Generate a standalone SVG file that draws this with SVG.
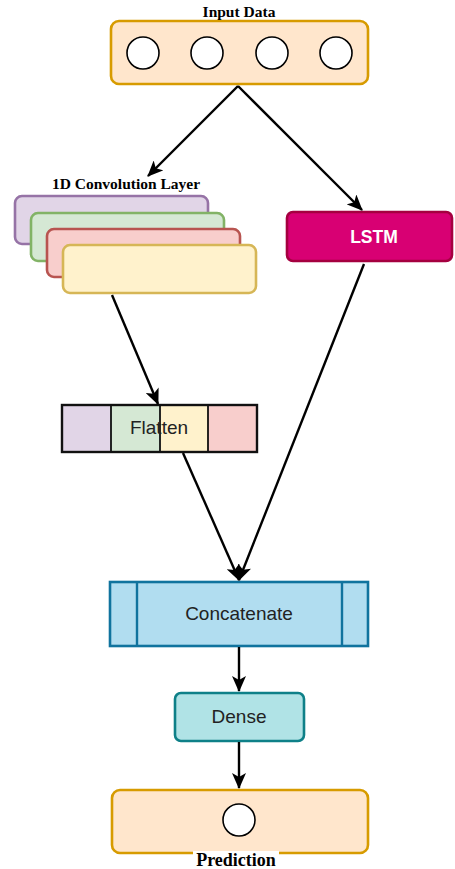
<svg xmlns="http://www.w3.org/2000/svg" width="455" height="869" viewBox="0 0 455 869">
  <style>
    .serif { font-family: "Liberation Serif", "Times New Roman", serif; font-weight: bold; fill: #000; }
    .sans { font-family: "Liberation Sans", Arial, sans-serif; fill: #222; }
    .circ { fill: #fff; stroke: #000; stroke-width: 1.6; }
    .edge { fill: none; stroke: #000; stroke-width: 2.4; marker-end: url(#arrow); }
    .box { stroke-width: 2.6; }
  </style>
  <defs>
    <marker id="arrow" viewBox="0 0 16 14" refX="15" refY="7" markerWidth="16" markerHeight="14" markerUnits="userSpaceOnUse" orient="auto">
      <path d="M0,0 L16,7 L0,14 L4,7 Z" fill="#000"/>
    </marker>
  </defs>
  <rect width="455" height="869" fill="#fff"/>

  <!-- input layer -->
  <g id="input">
    <rect class="box" x="111" y="21" width="257" height="63" rx="8" fill="#ffe6cc" stroke="#d79b00"/>
    <circle class="circ" cx="143" cy="53" r="16"/>
    <circle class="circ" cx="207" cy="53" r="16"/>
    <circle class="circ" cx="272" cy="53" r="16"/>
    <circle class="circ" cx="336" cy="53" r="16"/>
    <text class="serif" x="239" y="17" font-size="15.5" text-anchor="middle">Input Data</text>
  </g>

  <!-- stacked convolution feature maps -->
  <g id="conv">
    <rect class="box" x="15" y="196" width="193" height="48" rx="7" fill="#e1d5e7" stroke="#9673a6"/>
    <rect class="box" x="31" y="213" width="193" height="48" rx="7" fill="#d5e8d4" stroke="#82b366"/>
    <rect class="box" x="47" y="229" width="193" height="48" rx="7" fill="#f8cecc" stroke="#b85450"/>
    <rect class="box" x="63" y="245" width="193" height="48" rx="7" fill="#fff2cc" stroke="#d6b656"/>
    <text class="serif" x="126" y="189" font-size="15.5" text-anchor="middle">1D Convolution Layer</text>
  </g>

  <!-- recurrent branch -->
  <g id="lstm">
    <rect class="box" x="287" y="212" width="165" height="49" rx="6" fill="#d80073" stroke="#a50040"/>
    <text x="374" y="243" font-family="Liberation Sans, Arial, sans-serif" font-weight="bold" font-size="17.5" fill="#fff" text-anchor="middle">LSTM</text>
  </g>

  <!-- flatten -->
  <g id="flatten">
    <rect x="62" y="405" width="49" height="47" fill="#e1d5e7"/>
    <rect x="111" y="405" width="49" height="47" fill="#d5e8d4"/>
    <rect x="160" y="405" width="48" height="47" fill="#fff2cc"/>
    <rect x="208" y="405" width="49" height="47" fill="#f8cecc"/>
    <rect x="62" y="405" width="195" height="47" fill="none" stroke="#111" stroke-width="2.4"/>
    <path d="M111,405 V452 M160,405 V452 M208,405 V452" stroke="#111" stroke-width="1.8"/>
    <text class="sans" x="159" y="434" font-size="19" text-anchor="middle">Flatten</text>
  </g>

  <!-- concatenate -->
  <g id="concatenate">
    <rect class="box" x="110" y="582" width="258" height="64" fill="#b1ddf0" stroke="#10739e"/>
    <path d="M137,582 V646 M342,582 V646" stroke="#10739e" stroke-width="2.4"/>
    <text class="sans" x="239" y="620" font-size="19" text-anchor="middle">Concatenate</text>
  </g>

  <!-- dense -->
  <g id="dense">
    <rect class="box" x="175" y="693" width="129" height="48" rx="6" fill="#b0e3e6" stroke="#0e8088"/>
    <text class="sans" x="239" y="723" font-size="19" text-anchor="middle">Dense</text>
  </g>

  <!-- output -->
  <g id="prediction">
    <rect class="box" x="112" y="790" width="256" height="63" rx="8" fill="#ffe6cc" stroke="#d79b00"/>
    <circle class="circ" cx="239" cy="820" r="16"/>
    <rect x="193" y="851" width="86" height="18" fill="#fff"/>
    <text class="serif" x="236" y="866" font-size="18" text-anchor="middle">Prediction</text>
  </g>

  <!-- connectors -->
  <g id="edges">
    <path class="edge" d="M238,86 L148,176"/>
    <path class="edge" d="M238,86 L362,210"/>
    <path class="edge" d="M112,295 L158,404"/>
    <path class="edge" d="M183,453 L239,580"/>
    <path class="edge" d="M364,264 L239,580"/>
    <path class="edge" d="M239,647 L239,691"/>
    <path class="edge" d="M239,742 L239,788"/>
  </g>
</svg>
